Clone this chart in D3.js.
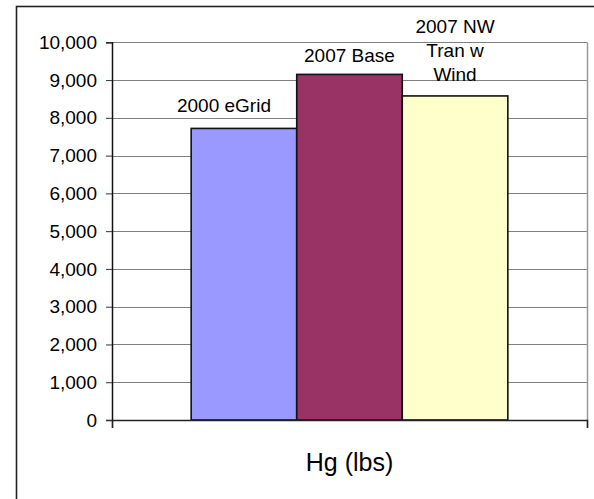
<!DOCTYPE html>
<html>
<head>
<meta charset="utf-8">
<script src="https://cdn.jsdelivr.net/npm/d3@7"></script>
<style>
  html, body { margin: 0; padding: 0; background: #fff; }
  svg { display: block; font-family: "Liberation Sans", Arial, sans-serif; }
</style>
</head>
<body>
<svg id="chart" width="594" height="499"></svg>
<script>
// Mercury emissions by scenario
const category = "Hg (lbs)";
const seriesNames = ["2000 eGrid", "2007 Base", "2007 NW Tran w Wind"];
const seriesLabelLines = [["2000 eGrid"], ["2007 Base"], ["2007 NW", "Tran w", "Wind"]];
const seriesValues = [7720, 9150, 8580];
const seriesColors = ["#9999FF", "#993366", "#FFFFCC"];
const yTicks = [0, 1000, 2000, 3000, 4000, 5000, 6000, 7000, 8000, 9000, 10000];

// hand-placed label offsets (px) relative to the default spot above each bar
const labelNudge = [[-20, -1.5], [0, 2.5], [0, 0]];

const svg = d3.select("#chart");
const plot = { left: 112, right: 587, top: 42.3, bottom: 420 };
const fontSize = 19;

// outer chart frame
svg.append("rect")
  .attr("x", 16.5).attr("y", 6.5)
  .attr("width", 640).attr("height", 600)
  .attr("fill", "none").attr("stroke", "#222").attr("stroke-width", 1.6);

const y = d3.scaleLinear().domain([0, 10000]).range([plot.bottom, plot.top]);

// one category, gap width of half a group on each side
const x0 = d3.scaleBand().domain([category])
  .range([plot.left, plot.right]).paddingInner(0).paddingOuter(0.25);
const x1 = d3.scaleBand().domain(seriesNames)
  .range([0, x0.bandwidth()]).padding(0);

// horizontal gridlines
svg.append("g").selectAll("line")
  .data(yTicks.filter(d => d > 0))
  .join("line")
  .attr("x1", plot.left).attr("x2", plot.right)
  .attr("y1", d => Math.round(y(d)) + 0.5).attr("y2", d => Math.round(y(d)) + 0.5)
  .attr("stroke", "#808080").attr("stroke-width", 1);

// right edge of plot area
svg.append("line")
  .attr("x1", plot.right + 0.5).attr("x2", plot.right + 0.5)
  .attr("y1", plot.top).attr("y2", plot.bottom)
  .attr("stroke", "#999").attr("stroke-width", 1.5);

// bars
const g = svg.append("g").attr("transform", `translate(${x0(category)},0)`);
g.selectAll("rect")
  .data(seriesValues)
  .join("rect")
  .attr("x", (d, i) => x1(seriesNames[i]))
  .attr("y", d => y(d))
  .attr("width", x1.bandwidth())
  .attr("height", d => y(0) - y(d))
  .attr("fill", (d, i) => seriesColors[i])
  .attr("stroke", "#111").attr("stroke-width", 1.6);

// series labels above the bars
const lineH = 24;
g.selectAll("text.lbl")
  .data(seriesValues)
  .join("text")
  .attr("class", "lbl")
  .attr("text-anchor", "middle")
  .attr("font-size", fontSize)
  .attr("fill", "#000")
  .each(function (d, i) {
    const lines = seriesLabelLines[i];
    const [dx, dy] = labelNudge[i];
    const cx = x1(seriesNames[i]) + x1.bandwidth() / 2 + dx;
    const base = y(d) - 15 + dy - (lines.length - 1) * lineH;
    d3.select(this).selectAll("tspan")
      .data(lines)
      .join("tspan")
      .attr("x", cx)
      .attr("y", (t, k) => base + k * lineH)
      .text(t => t);
  });

// value axis
const yAxis = svg.append("g")
  .attr("transform", `translate(${plot.left},0)`)
  .call(d3.axisLeft(y).tickValues(yTicks).tickSize(6).tickPadding(9)
    .tickFormat(d3.format(",")));
yAxis.select(".domain").attr("stroke", "#111").attr("stroke-width", 1.5);
yAxis.selectAll(".tick line").attr("stroke", "#333");
yAxis.selectAll("text").attr("font-size", fontSize).attr("fill", "#000")
  .attr("font-family", "Liberation Sans, Arial, sans-serif");

// category axis: baseline with boundary ticks
const xAxis = svg.append("g")
  .attr("transform", `translate(0,${plot.bottom})`)
  .call(d3.axisBottom(d3.scaleLinear().domain([0, 1]).range([plot.left, plot.right]))
    .tickValues([0, 1]).tickSize(8).tickFormat(""));
xAxis.select(".domain").attr("stroke", "#222").attr("stroke-width", 1.5);
xAxis.selectAll(".tick line").attr("stroke", "#222").attr("stroke-width", 1.2);

// category label
svg.append("text")
  .attr("x", x0(category) + x0.bandwidth() / 2)
  .attr("y", 471)
  .attr("text-anchor", "middle")
  .attr("font-size", 25)
  .attr("fill", "#000")
  .text(category);
</script>
</body>
</html>
